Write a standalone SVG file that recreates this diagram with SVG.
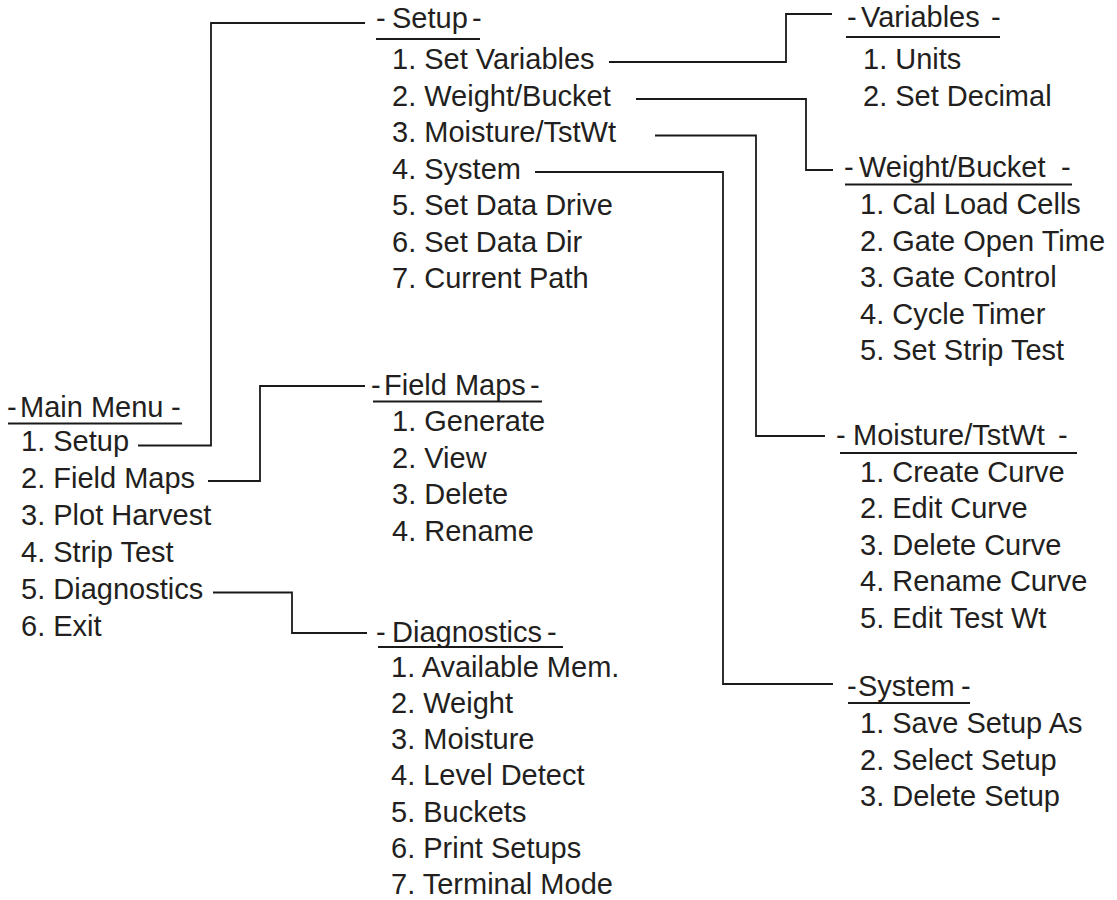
<svg xmlns="http://www.w3.org/2000/svg" width="1117" height="900" viewBox="0 0 1117 900">
<style>
.t{font-family:"Liberation Sans",Arial,Helvetica,sans-serif;font-size:29px;fill:#231f20}
.c{fill:none;stroke:#1a1a1a;stroke-width:1.8}
.u{stroke:#1a1a1a;stroke-width:2}
</style>
<rect width="1117" height="900" fill="#fff"/>
<g id="connectors">
<polyline class="c" points="138,445.5 211,445.5 211,23 365,23"/>
<polyline class="c" points="208,481 260,481 260,386 365,386"/>
<polyline class="c" points="213,592.5 292,592.5 292,633 367,633"/>
<polyline class="c" points="609,62 786,62 786,14 832,14"/>
<polyline class="c" points="636,99 806,99 806,170 833,170"/>
<polyline class="c" points="655,135.5 756,135.5 756,436 825,436"/>
<polyline class="c" points="535,172 723,172 723,684 833,684"/>
</g>
<g id="main-menu">
<text class="t"><tspan x="7" y="417">-</tspan><tspan x="20" y="417">Main Menu</tspan><tspan x="171" y="417">-</tspan></text>
<line class="u" x1="8" y1="423.5" x2="182" y2="423.5"/>
<text class="t" x="21" y="451">1. Setup</text>
<text class="t" x="21" y="488">2. Field Maps</text>
<text class="t" x="21" y="525">3. Plot Harvest</text>
<text class="t" x="21" y="562">4. Strip Test</text>
<text class="t" x="21" y="599">5. Diagnostics</text>
<text class="t" x="21" y="636">6. Exit</text>
</g>
<g id="setup">
<text class="t"><tspan x="376" y="28">-</tspan><tspan x="392" y="28">Setup</tspan><tspan x="472" y="28">-</tspan></text>
<line class="u" x1="376" y1="39" x2="480" y2="39"/>
<text class="t" x="392" y="69">1. Set Variables</text>
<text class="t" x="392" y="105.5">2. Weight/Bucket</text>
<text class="t" x="392" y="142">3. Moisture/TstWt</text>
<text class="t" x="392" y="178.5">4. System</text>
<text class="t" x="392" y="215">5. Set Data Drive</text>
<text class="t" x="392" y="251.5">6. Set Data Dir</text>
<text class="t" x="392" y="288">7. Current Path</text>
</g>
<g id="field-maps">
<text class="t"><tspan x="371" y="395">-</tspan><tspan x="384" y="395">Field Maps</tspan><tspan x="530" y="395">-</tspan></text>
<line class="u" x1="373" y1="401.5" x2="542" y2="401.5"/>
<text class="t" x="392" y="431">1. Generate</text>
<text class="t" x="392" y="467.5">2. View</text>
<text class="t" x="392" y="504">3. Delete</text>
<text class="t" x="392" y="540.5">4. Rename</text>
</g>
<g id="diagnostics">
<text class="t"><tspan x="376" y="642">-</tspan><tspan x="392" y="642">Diagnostics</tspan><tspan x="547" y="642">-</tspan></text>
<line class="u" x1="378" y1="647" x2="563" y2="647"/>
<text class="t" x="391" y="677">1. Available Mem.</text>
<text class="t" x="391" y="713">2. Weight</text>
<text class="t" x="391" y="749.2">3. Moisture</text>
<text class="t" x="391" y="785.4">4. Level Detect</text>
<text class="t" x="391" y="821.6">5. Buckets</text>
<text class="t" x="391" y="857.8">6. Print Setups</text>
<text class="t" x="391" y="893.5">7. Terminal Mode</text>
</g>
<g id="variables">
<text class="t"><tspan x="847" y="27">-</tspan><tspan x="861" y="27">Variables</tspan><tspan x="991" y="27">-</tspan></text>
<line class="u" x1="846" y1="37" x2="1000" y2="37"/>
<text class="t" x="863" y="69">1. Units</text>
<text class="t" x="863" y="105.5">2. Set Decimal</text>
</g>
<g id="weight-bucket">
<text class="t"><tspan x="844" y="177">-</tspan><tspan x="859" y="177">Weight/Bucket</tspan><tspan x="1061" y="177">-</tspan></text>
<line class="u" x1="845" y1="184.5" x2="1072" y2="184.5"/>
<text class="t" x="860" y="214">1. Cal Load Cells</text>
<text class="t" x="860" y="250.5">2. Gate Open Time</text>
<text class="t" x="860" y="287">3. Gate Control</text>
<text class="t" x="860" y="323.5">4. Cycle Timer</text>
<text class="t" x="860" y="360">5. Set Strip Test</text>
</g>
<g id="moisture-tstwt">
<text class="t"><tspan x="836" y="445">-</tspan><tspan x="853" y="445">Moisture/TstWt</tspan><tspan x="1058" y="445">-</tspan></text>
<line class="u" x1="840" y1="453" x2="1077" y2="453"/>
<text class="t" x="860" y="481.5">1. Create Curve</text>
<text class="t" x="860" y="518">2. Edit Curve</text>
<text class="t" x="860" y="554.5">3. Delete Curve</text>
<text class="t" x="860" y="591">4. Rename Curve</text>
<text class="t" x="860" y="627.5">5. Edit Test Wt</text>
</g>
<g id="system">
<text class="t"><tspan x="847" y="696">-</tspan><tspan x="858" y="696">System</tspan><tspan x="961" y="696">-</tspan></text>
<line class="u" x1="848" y1="703" x2="970" y2="703"/>
<text class="t" x="860" y="733">1. Save Setup As</text>
<text class="t" x="860" y="769.5">2. Select Setup</text>
<text class="t" x="860" y="806">3. Delete Setup</text>
</g>
</svg>
